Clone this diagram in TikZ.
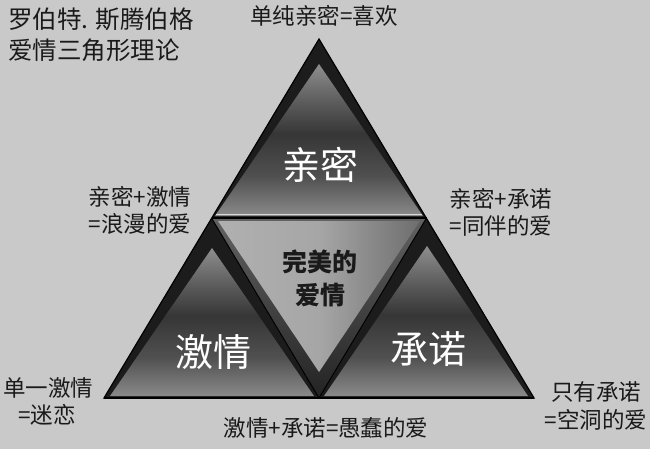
\documentclass[tikz,border=0pt]{standalone}
\usepackage{fontspec}
\setmainfont{Noto Sans CJK SC}
\definecolor{bg}{HTML}{C9C9C9}
\definecolor{ink}{HTML}{1A1A1A}
\definecolor{frame}{HTML}{1C1C1C}
\definecolor{ga}{HTML}{8E8E8E}
\definecolor{gb}{HTML}{5A5A5A}
\definecolor{gc}{HTML}{363636}
\definecolor{gd}{HTML}{505050}
\definecolor{ge}{HTML}{8A8A8A}
\definecolor{cl}{HTML}{B0B0B0}
\definecolor{cr}{HTML}{6E6E6E}
\definecolor{cband}{HTML}{3A3A3A}
\pgfdeclareverticalshading{trishade}{100bp}{color(0bp)=(ge); color(25bp)=(ge); color(38bp)=(gd); color(52bp)=(gc); color(62bp)=(gb); color(75bp)=(ga); color(100bp)=(ga)}
\begin{document}
\begin{tikzpicture}[x=1pt,y=-1pt,
  lbl/.style={font=\fontsize{22.5}{26}\selectfont, text=ink, inner sep=0pt},
  ttl/.style={font=\fontsize{24.5}{27}\selectfont, text=ink, inner sep=0pt, anchor=west},
  bigw/.style={font=\fontsize{38}{40}\selectfont, text=white, inner sep=0pt},
  core/.style={font=\fontsize{25}{28}\selectfont\bfseries, text=ink, inner sep=0pt},
  outerfr/.style={fill=frame},
  innersh/.style={shading=trishade}]
\fill[bg] (0,0) rectangle (650,449);
\useasboundingbox (0,0) rectangle (650,449);
% key points
\coordinate (A) at (319,39);
\coordinate (L) at (104,398);
\coordinate (R) at (534,398);
\coordinate (ML) at (211.5,218);
\coordinate (MR) at (426.5,218);
\coordinate (MB) at (319,398);
% top triangle
\fill[outerfr] (A) -- (ML) -- (MR) -- cycle;
\shade[innersh] (319,64) -- (215,216) -- (423,216) -- cycle;
\draw[white!70!gray, line width=1pt] (216,214.5) -- (422,214.5);
% bottom-left triangle
\fill[outerfr] (ML) -- (L) -- (MB) -- cycle;
\shade[innersh] (212,248) -- (110,396) -- (314,396) -- cycle;
% bottom-right triangle
\fill[outerfr] (MR) -- (MB) -- (R) -- cycle;
\shade[innersh] (427,246) -- (324,396) -- (528,396) -- cycle;
% centre inverted triangle
\shade[top color=cband!80!white, bottom color=cband!60!black] (ML) -- (MR) -- (MB) -- cycle;
\shade[left color=cl, right color=cr, middle color=cl!85!cr] (218,221) -- (420,221) -- (319,372) -- cycle;
% lines
\draw[black, line width=2.2pt] (ML) -- (MR);
\draw[black, line width=2.2pt] (L) -- (R);
\draw[black, line width=1.2pt] (A) -- (L) -- (R) -- cycle;
\draw[black, line width=1pt] (ML) -- (MB) -- (MR);
% texts
\node[ttl] (t1) at (8,19) {罗伯特. 斯腾伯格};
\node[ttl] (t2) at (8,50) {爱情三角形理论};
\node[lbl] (top) at (324,16) {单纯亲密=喜欢};
\node[bigw] (qm) at (320,165) {亲密};
\node[core] (w1) at (320,262) {完美的};
\node[core] (w2) at (320,295) {爱情};
\node[bigw] (jq) at (213,352) {激情};
\node[bigw] (cn) at (428,349) {承诺};
\node[lbl] (lq1) at (140,197) {亲密+激情};
\node[lbl] (lq2) at (140,224) {=浪漫的爱};
\node[lbl] (rq1) at (501,199) {亲密+承诺};
\node[lbl] (rq2) at (501,226) {=同伴的爱};
\node[lbl] (dj1) at (48,388) {单一激情};
\node[lbl] (dj2) at (47,415) {=迷恋};
\node[lbl] (bt) at (326,428) {激情+承诺=愚蠢的爱};
\node[lbl] (zy1) at (596,392) {只有承诺};
\node[lbl] (zy2) at (596,420) {=空洞的爱};
\end{tikzpicture}
\end{document}
